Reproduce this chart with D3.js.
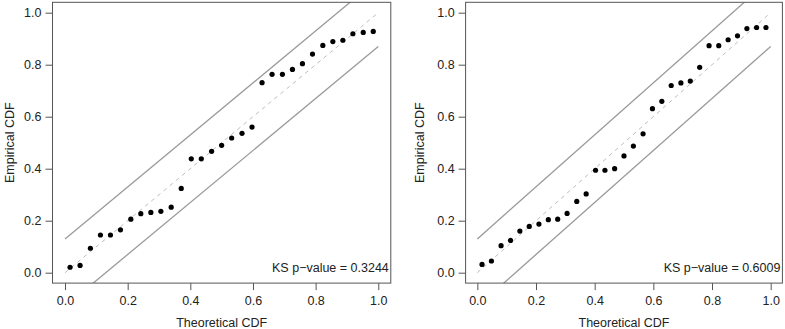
<!DOCTYPE html>
<html>
<head>
<meta charset="utf-8">
<script src="https://cdn.jsdelivr.net/npm/d3@7"></script>
<style>
  html, body { margin: 0; padding: 0; background: #fff; }
  svg { display: block; font-family: "Liberation Sans", Arial, Helvetica, sans-serif; }
</style>
</head>
<body>
<svg id="chart"></svg>
<script>
const width = 785;
const height = 329;

// theoretical CDF positions (same 31 points in both panels)
const theoretical = [0.016, 0.048, 0.081, 0.113, 0.145, 0.177, 0.210, 0.242, 0.274, 0.306,
  0.339, 0.371, 0.403, 0.435, 0.468, 0.500, 0.532, 0.565, 0.597, 0.629,
  0.661, 0.694, 0.726, 0.758, 0.790, 0.823, 0.855, 0.887, 0.919, 0.952, 0.984];

// empirical CDF, left panel
const empiricalLeft = [0.021, 0.028, 0.094, 0.145, 0.145, 0.165, 0.206, 0.227, 0.232, 0.236,
  0.252, 0.324, 0.438, 0.438, 0.467, 0.490, 0.518, 0.536, 0.560, 0.731,
  0.763, 0.763, 0.782, 0.804, 0.841, 0.874, 0.889, 0.894, 0.919, 0.924, 0.928];

// empirical CDF, right panel
const empiricalRight = [0.032, 0.045, 0.104, 0.124, 0.160, 0.178, 0.187, 0.204, 0.206, 0.228,
  0.274, 0.303, 0.394, 0.394, 0.400, 0.449, 0.487, 0.534, 0.631, 0.659,
  0.720, 0.730, 0.737, 0.790, 0.873, 0.873, 0.896, 0.911, 0.939, 0.943, 0.943];

const ticks = [0, 0.2, 0.4, 0.6, 0.8, 1.0];
const bandHalfWidth = 0.13;
const pValues = ["0.3244", "0.6009"];
const xTitle = "Theoretical CDF";
const yTitle = "Empirical CDF";

const svg = d3.select("#chart")
  .attr("width", width)
  .attr("height", height);

const panels = [
  { emp: empiricalLeft, p: pValues[0], x0: 52.5, x1: 390.8, yLab: 10 },
  { emp: empiricalRight, p: pValues[1], x0: 465.6, x1: 782.4, yLab: 420 }
];

const yTop = 2.3;
const yBottom = 283.1;

panels.forEach((panel, i) => {
  const x = d3.scaleLinear().domain([-0.04, 1.04]).range([panel.x0, panel.x1]);
  const y = d3.scaleLinear().domain([-0.04, 1.04]).range([yBottom, yTop]);

  const g = svg.append("g");

  const clipId = "clip-" + i;
  svg.append("defs").append("clipPath")
    .attr("id", clipId)
    .append("rect")
    .attr("x", panel.x0)
    .attr("y", yTop)
    .attr("width", panel.x1 - panel.x0)
    .attr("height", yBottom - yTop);

  const plot = g.append("g").attr("clip-path", `url(#${clipId})`);

  // diagonal reference line
  plot.append("line")
    .attr("x1", x(0)).attr("y1", y(0))
    .attr("x2", x(1)).attr("y2", y(1))
    .attr("stroke", "#bdbdbd")
    .attr("stroke-width", 1)
    .attr("stroke-dasharray", "4,4");

  // KS band
  [bandHalfWidth, -bandHalfWidth].forEach(off => {
    plot.append("line")
      .attr("x1", x(0)).attr("y1", y(0 + off))
      .attr("x2", x(1)).attr("y2", y(1 + off))
      .attr("stroke", "#9a9a9a")
      .attr("stroke-width", 1.3);
  });

  // points
  plot.selectAll("circle")
    .data(theoretical.map((t, k) => ({ t: t, e: panel.emp[k] })))
    .join("circle")
    .attr("cx", d => x(d.t))
    .attr("cy", d => y(d.e))
    .attr("r", 2.6)
    .attr("fill", "#000");

  // axes
  const xAxis = g.append("g")
    .attr("transform", `translate(0,${yBottom})`)
    .call(d3.axisBottom(x).tickValues(ticks).tickFormat(d3.format(".1f")).tickSize(7).tickPadding(6));
  const yAxis = g.append("g")
    .attr("transform", `translate(${panel.x0},0)`)
    .call(d3.axisLeft(y).tickValues(ticks).tickFormat(d3.format(".1f")).tickSize(7).tickPadding(4));

  [xAxis, yAxis].forEach(ax => {
    ax.select(".domain").remove();
    ax.selectAll(".tick line").attr("stroke", "#555");
    ax.selectAll(".tick text")
      .attr("fill", "#222")
      .style("font-size", "12.5px")
      .style("font-family", "'Liberation Sans', Arial, sans-serif");
  });

  // box
  g.append("rect")
    .attr("x", panel.x0)
    .attr("y", yTop)
    .attr("width", panel.x1 - panel.x0)
    .attr("height", yBottom - yTop)
    .attr("fill", "none")
    .attr("stroke", "#555")
    .attr("stroke-width", 1);

  // titles
  g.append("text")
    .attr("x", (panel.x0 + panel.x1) / 2)
    .attr("y", 327)
    .attr("text-anchor", "middle")
    .attr("fill", "#222")
    .style("font-size", "12.5px")
    .text(xTitle);

  g.append("text")
    .attr("transform", `translate(${panel.yLab},${(yTop + yBottom) / 2}) rotate(-90)`)
    .attr("text-anchor", "middle")
    .attr("dy", "0.35em")
    .attr("fill", "#222")
    .style("font-size", "12.5px")
    .text(yTitle);

  // KS p-value
  g.append("text")
    .attr("x", panel.x1 - 2)
    .attr("y", 272)
    .attr("text-anchor", "end")
    .attr("fill", "#222")
    .style("font-size", "12.5px")
    .text("KS p\u2212value = " + panel.p);
});
</script>
</body>
</html>
